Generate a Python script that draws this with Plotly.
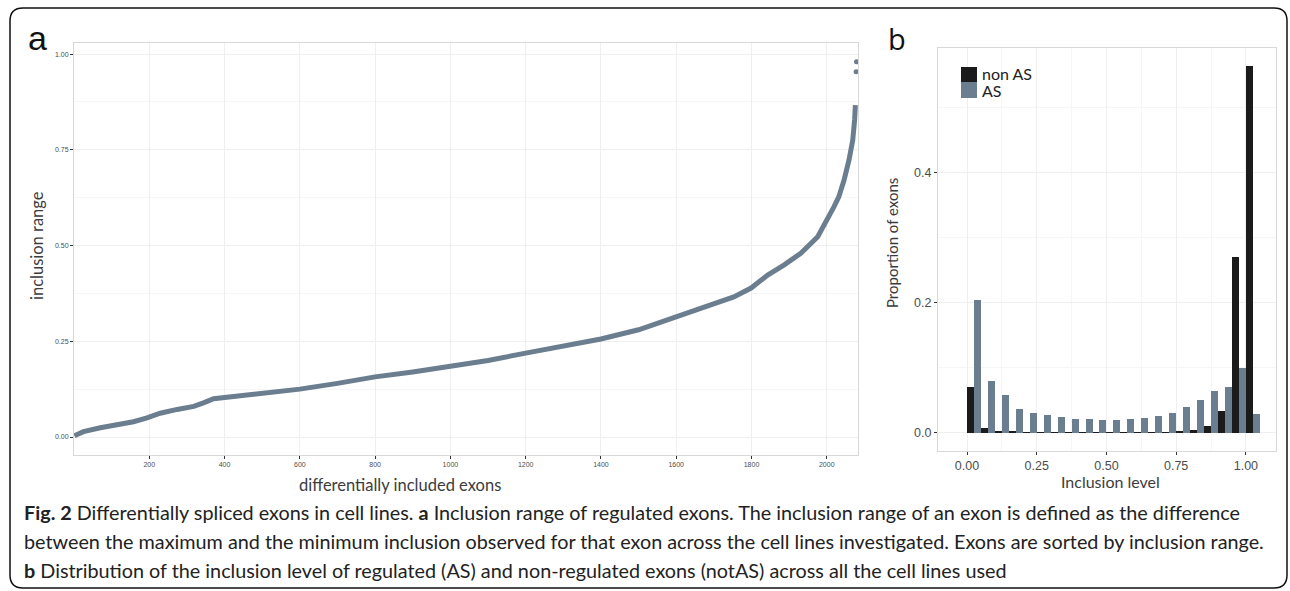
import plotly.graph_objects as go

# ---------------- data ----------------
# panel a: exons sorted by inclusion range
exon_rank = [1, 25, 70, 114, 158, 194, 229, 274, 318, 344, 371, 424, 469, 500,
             600, 700, 800, 900, 1000, 1100, 1200, 1300, 1400, 1500, 1600, 1665,
             1710, 1753, 1799, 1843, 1886, 1931, 1976, 2002, 2019, 2032, 2046,
             2059, 2069, 2074, 2076]
inclusion_range = [0.003, 0.014, 0.024, 0.031, 0.040, 0.050, 0.062, 0.072, 0.080,
                   0.089, 0.100, 0.106, 0.111, 0.113, 0.125, 0.140, 0.157, 0.170,
                   0.184, 0.200, 0.219, 0.237, 0.256, 0.280, 0.314, 0.334, 0.349,
                   0.366, 0.389, 0.423, 0.449, 0.480, 0.523, 0.567, 0.601, 0.627,
                   0.671, 0.723, 0.775, 0.828, 0.867]
outlier_rank = [2078, 2079]
outlier_range = [0.954, 0.980]

# panel b: histogram of inclusion level (bin width 0.05)
bin_centers = [0.025, 0.075, 0.125, 0.175, 0.225, 0.275, 0.325, 0.375, 0.425,
               0.475, 0.525, 0.575, 0.625, 0.675, 0.725, 0.775, 0.825, 0.875,
               0.925, 0.975, 1.025]
non_as = [0.070, 0.007, 0.0035, 0.0015, 0.001, 0.0005, 0.0005, 0.0005, 0.0005,
          0.0005, 0.0005, 0.0005, 0.0005, 0.0005, 0.001, 0.0025, 0.0045, 0.011,
          0.034, 0.270, 0.565]
as_vals = [0.204, 0.079, 0.058, 0.036, 0.030, 0.027, 0.024, 0.021, 0.021, 0.020,
           0.019, 0.021, 0.023, 0.026, 0.030, 0.040, 0.051, 0.065, 0.071, 0.099,
           0.029]

xa_ticks = [200, 400, 600, 800, 1000, 1200, 1400, 1600, 1800, 2000]
ya_ticks = [0.0, 0.25, 0.5, 0.75, 1.0]
ya_labels = ["0.00", "0.25", "0.50", "0.75", "1.00"]
xb_ticks = [0.0, 0.25, 0.5, 0.75, 1.0]
xb_labels = ["0.00", "0.25", "0.50", "0.75", "1.00"]
yb_ticks = [0.0, 0.2, 0.4]
yb_labels = ["0.0", "0.2", "0.4"]

caption_lines = [
    "<b>Fig. 2</b> Differentially spliced exons in cell lines. <b>a</b> Inclusion range of regulated exons. The inclusion range of an exon is defined as the difference",
    "between the maximum and the minimum inclusion observed for that exon across the cell lines investigated. Exons are sorted by inclusion range.",
    "<b>b</b> Distribution of the inclusion level of regulated (AS) and non-regulated exons (notAS) across all the cell lines used",
]

# ---------------- figure ----------------
W, H = 1290, 591
def X(p):
    return p / W
def Y(p):
    return 1 - p / H

BLUEGRAY = "#6a7e90"
BLACK = "#1b1b1b"
GRID = "#efefef"
MINOR = "#f6f6f6"
BORDER = "#d8d8d8"
TICKFONT = "Liberation Sans, Arial, sans-serif"
TITLEFONT = "Lato, Open Sans, sans-serif"

fig = go.Figure()

fig.add_trace(go.Scatter(x=exon_rank, y=inclusion_range, mode="lines",
                         line=dict(color=BLUEGRAY, width=5), showlegend=False,
                         xaxis="x", yaxis="y"))
fig.add_trace(go.Scatter(x=outlier_rank, y=outlier_range, mode="markers",
                         marker=dict(color=BLUEGRAY, size=5), showlegend=False,
                         xaxis="x", yaxis="y"))

fig.add_trace(go.Bar(x=bin_centers, y=non_as, name="non AS", marker_color=BLACK,
                     marker_line_width=0, xaxis="x2", yaxis="y2", showlegend=False))
fig.add_trace(go.Bar(x=bin_centers, y=as_vals, name="AS", marker_color=BLUEGRAY,
                     marker_line_width=0, xaxis="x2", yaxis="y2", showlegend=False))

axis_common = dict(showline=True, mirror=True, linecolor=BORDER, linewidth=1,
                   gridcolor=GRID, gridwidth=1, zeroline=False, ticks="outside",
                   ticklen=3, tickwidth=1, tickcolor="#333333")

fig.update_layout(
    width=W, height=H, margin=dict(l=0, r=0, t=0, b=0),
    paper_bgcolor="white", plot_bgcolor="white",
    barmode="group", bargap=0, bargroupgap=0,
    xaxis=dict(domain=[X(74), X(858)], range=[0, 2083], tickvals=xa_ticks,
               tickfont=dict(family=TICKFONT, size=7, color="#4d4d4d"),
               anchor="y", **axis_common),
    yaxis=dict(domain=[Y(455), Y(43)], range=[-0.047, 1.029], tickvals=ya_ticks,
               ticktext=ya_labels,
               tickfont=dict(family=TICKFONT, size=7, color="#4d4d4d"),
               minor=dict(tickvals=[0.125, 0.375, 0.625, 0.875], showgrid=True,
                          gridcolor=MINOR, ticks=""),
               anchor="x", **axis_common),
    xaxis2=dict(domain=[X(938), X(1276)], range=[-0.104, 1.108], tickvals=xb_ticks,
                ticktext=xb_labels,
                tickfont=dict(family=TICKFONT, size=12.5, color="#4d4d4d"),
                minor=dict(tickvals=[0.125, 0.375, 0.625, 0.875], showgrid=True,
                           gridcolor=MINOR, ticks=""),
                anchor="y2", **axis_common),
    yaxis2=dict(domain=[Y(451), Y(48)], range=[-0.028, 0.592], tickvals=yb_ticks,
                ticktext=yb_labels,
                tickfont=dict(family=TICKFONT, size=12.5, color="#4d4d4d"),
                minor=dict(tickvals=[0.1, 0.3, 0.5], showgrid=True,
                           gridcolor=MINOR, ticks=""),
                anchor="x2", **axis_common),
)

ann = []
def A(text, x, y, size, family=TITLEFONT, color="#333333", angle=0,
      xanchor="center", yanchor="middle"):
    ann.append(dict(text=text, x=X(x), y=Y(y), xref="paper", yref="paper",
                    showarrow=False, font=dict(family=family, size=size, color=color),
                    textangle=angle, xanchor=xanchor, yanchor=yanchor))

A("a", 26, 38, 34, family=TICKFONT, color="#111111", xanchor="left")
A("b", 886, 38, 29, family="Open Sans, sans-serif", color="#111111", xanchor="left")
A("inclusion range", 37, 246, 16.5, angle=-90, color="#3c3c3c")
A("differentially included exons", 400, 485, 16.5, color="#3c3c3c")
A("Inclusion level", 1110, 481, 16, color="#3c3c3c")
A("Proportion of exons", 892, 243, 15, angle=-90, color="#3c3c3c")
A("non AS", 980, 74, 16, color="#222222", xanchor="left")
A("AS", 980, 91, 16, color="#222222", xanchor="left")

for i, line in enumerate(caption_lines):
    A(line, 22, 512 + 29 * i, 19.8, color="#222222", xanchor="left")

fig.update_layout(annotations=ann)

shapes = [
    dict(type="rect", xref="paper", yref="paper", x0=X(961), x1=X(977),
         y0=Y(82), y1=Y(67), fillcolor=BLACK, line_width=0),
    dict(type="rect", xref="paper", yref="paper", x0=X(961), x1=X(977),
         y0=Y(98), y1=Y(82), fillcolor=BLUEGRAY, line_width=0),
]
# rounded outer frame
l, r, t, b, rad = 10, 1287, 8, 588, 13
path = (f"M {X(l+rad)},{Y(t)} L {X(r-rad)},{Y(t)} Q {X(r)},{Y(t)} {X(r)},{Y(t+rad)} "
        f"L {X(r)},{Y(b-rad)} Q {X(r)},{Y(b)} {X(r-rad)},{Y(b)} "
        f"L {X(l+rad)},{Y(b)} Q {X(l)},{Y(b)} {X(l)},{Y(b-rad)} "
        f"L {X(l)},{Y(t+rad)} Q {X(l)},{Y(t)} {X(l+rad)},{Y(t)} Z")
shapes.append(dict(type="path", xref="paper", yref="paper", path=path,
                   line=dict(color="#111111", width=1.5)))
fig.update_layout(shapes=shapes)

fig.write_html("out.html", config={"displayModeBar": False},
               post_script="document.body.style.margin='0';document.body.style.overflow='hidden';")
